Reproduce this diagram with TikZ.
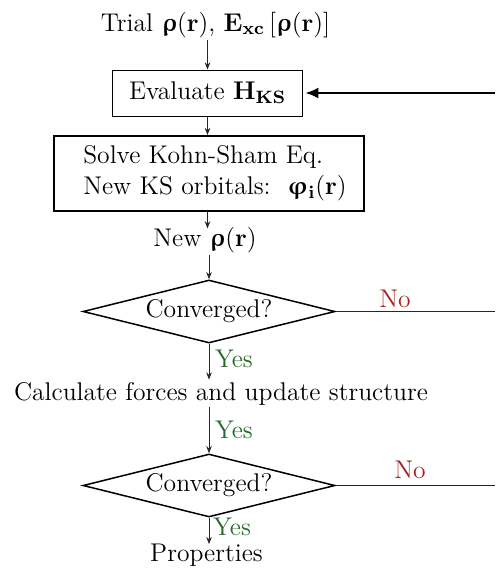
\RequirePackage{fix-cm}
\documentclass[tikz,border=0pt]{standalone}
\usepackage{amsmath}
\usepackage[Euler]{upgreek}
\usetikzlibrary{shapes.geometric,arrows.meta}
\definecolor{nored}{RGB}{165,32,32}
\definecolor{yesgreen}{RGB}{38,104,38}
\newcommand{\brho}{\boldsymbol{\upvarrho}}
\newcommand{\bphi}{\boldsymbol{\upvarphi}}
\begin{document}
\begin{tikzpicture}[x=0.5pt,y=-0.5pt,
  font=\fontsize{12.8}{15.4}\selectfont,
  txt/.style={inner sep=1pt},
  evalbox/.style={draw, line width=0.5pt, minimum width=95pt, minimum height=23pt, inner sep=0pt},
  solvebox/.style={draw, line width=1pt, minimum width=155pt, minimum height=37.5pt, align=left, inner sep=0pt},
  dia/.style={draw, diamond, aspect=4, inner sep=0pt, minimum width=126pt, minimum height=31.5pt, line width=0.75pt},
  flow/.style={-{Stealth[length=3.6pt,width=2.8pt]}, line width=0.4pt, draw=black!85},
  back/.style={-{Latex[length=6.5pt,width=5.5pt]}, line width=1pt, shorten >=1.2pt},
  noline/.style={line width=0.6pt, draw=black!85},
  nolab/.style={txt, text=nored},
  yeslab/.style={inner sep=0.5pt, text=yesgreen}]
\useasboundingbox (0,0) rectangle (495,568);
\coordinate (redge) at (495,0);

\node[txt, anchor=base] (trial) at (215.5,31)
  {Trial $\brho\mathbf{(r)}$, $\mathbf{E}_{\mathbf{xc}}\,[\brho\mathbf{(r)}]$};
\node[evalbox] (eval) at (207.5,93) {Evaluate $\mathbf{H}_{\mathbf{KS}}$};
\node[solvebox] (solve) at (209,173.5)
  {\hspace*{6pt}Solve Kohn-Sham Eq.\\[0pt] \hspace*{6pt}New KS orbitals:~~$\bphi_{\mathbf{i}}\mathbf{(r)}$};
\node[txt, anchor=base] (newrho) at (205,246) {New $\brho\mathbf{(r)}$};
\node[dia] (dia1) at (209,311.5) {Converged?};
\node[txt, anchor=base] (calc) at (221,400) {Calculate forces and update structure};
\node[dia] (dia2) at (209,485.5) {Converged?};
\node[txt, anchor=base] (props) at (206.5,561) {Properties};

\node[nolab] (no1) at (395,298.5) {No};
\node[nolab] (no2) at (410,470) {No};
\node[yeslab] (yes1) at (234,359) {Yes};
\node[yeslab] (yes2) at (234,430) {Yes};
\node[yeslab] (yes3) at (232,527) {Yes};

\draw[flow] (trial.south -| eval.north) -- (eval.north);
\draw[flow] (eval.south) -- (eval.south |- solve.north);
\draw[flow] (solve.south -| eval.south) -- ([yshift=-2pt]newrho.north -| eval.south);
\draw[flow] (newrho.south -| dia1.north) -- (dia1.north);
\draw[flow] (dia1.south) -- (dia1.south |- calc.north);
\draw[flow] (calc.south -| dia2.north) -- (dia2.north);
\draw[flow] (dia2.south) -- ([yshift=-1.5pt]dia2.south |- props.north);

\draw[noline] (dia1.east) -- (dia1.east -| redge);
\draw[noline] (dia2.east) -- (dia2.east -| redge);
\draw[back] (redge |- eval.east) -- (eval.east);
\end{tikzpicture}
\end{document}
